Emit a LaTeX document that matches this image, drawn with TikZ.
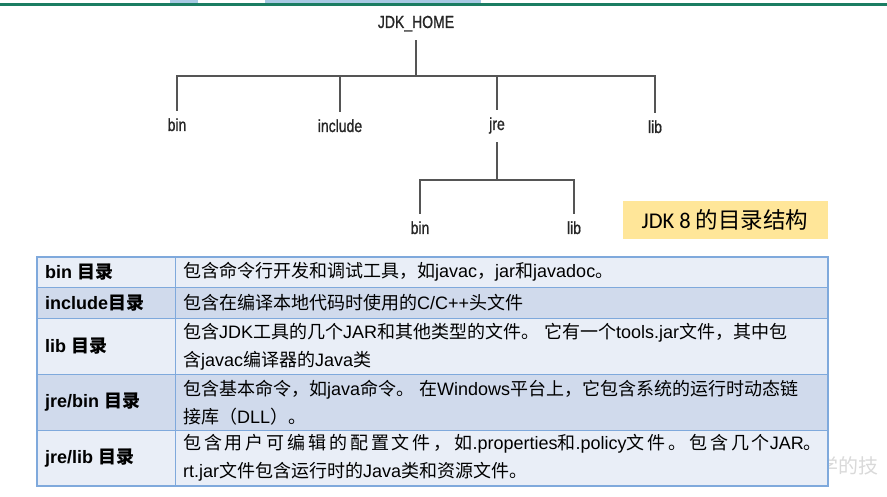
\documentclass[tikz,border=0pt]{standalone}
\usepackage{fontspec}
\setmainfont{Liberation Sans}
\newfontfamily\cjkfont{Noto Sans CJK SC}
\newfontfamily\treefont{Liberation Sans}[FakeStretch=0.8, FakeBold=1]
\newfontfamily\tagfont{Carlito}
\newcommand\zh[1]{{\cjkfont #1}}
\newcommand\zhsp[2]{{\cjkfont\addfontfeature{LetterSpace=#1}#2}}
\definecolor{treegray}{HTML}{555555}
\definecolor{tagyellow}{HTML}{FFE699}
\definecolor{rowlight}{HTML}{E9EEF7}
\definecolor{rowdark}{HTML}{D0DAEC}
\definecolor{gridblue}{HTML}{7FA9DC}
\definecolor{barteal}{HTML}{1B7D62}
\definecolor{marklite}{HTML}{A8C9E4}

\begin{document}
\begin{tikzpicture}[x=1pt, y=-1pt,
    dirname/.style={font=\treefont\fontsize{17.5}{17.5}\selectfont, text=black!85, anchor=base,
      inner xsep=0pt, inner ysep=8pt, text height=12pt, text depth=4pt},
    treeline/.style={draw=treegray, line width=1.4pt},
    keycell/.style={anchor=west, inner sep=0pt, font=\bfseries\fontsize{18}{28}\selectfont},
    desccell/.style={anchor=west, inner sep=0pt, align=left, font=\fontsize{18}{28}\selectfont}]
  \useasboundingbox (0,0) rectangle (887,497);

  % top rule of the slide
  \fill[marklite] (170,0) rectangle (198,3.5);
  \fill[marklite] (265,0) rectangle (481,3.5);
  \draw[barteal, line width=3pt] (0,5) -- (887,5);

  % directory tree
  \node[dirname] (home) at (416,28) {JDK\_HOME};
  \coordinate (bar1) at (416,76);
  \node[dirname] (bin)     at (177,131) {bin};
  \node[dirname] (include) at (340,132) {include};
  \node[dirname] (jre)     at (497,130) {jre};
  \node[dirname] (lib)     at (655,133) {lib};
  \coordinate (bar2) at (497,180);
  \node[dirname] (jrebin) at (420,234) {bin};
  \node[dirname] (jrelib) at (574,234) {lib};

  \draw[treeline] (home.south) -- (bar1);
  \draw[treeline] (bin.north) |- (bar1);
  \draw[treeline] (include.north) |- (bar1);
  \draw[treeline] (jre.north) |- (bar1);
  \draw[treeline] (lib.north) |- (bar1);
  \draw[treeline] (jre.south) -- (bar2);
  \draw[treeline] (jrebin.north) |- (bar2);
  \draw[treeline] (jrelib.north) |- (bar2);

  \node[fill=tagyellow, minimum width=205pt, minimum height=38pt, inner sep=0pt,
    font=\tagfont\fontsize{22.5}{22.5}\selectfont] (tag) at (725,220) {JDK 8 \zh{的目录结构}};

  % watermark under the table edge
  \node[anchor=west, inner sep=0pt, text=gray!30, font=\cjkfont\fontsize{20}{20}\selectfont]
    (mark) at (818,466) {学的技};

  % table
  \foreach \ya/\yb/\shade in {257/287.5/rowlight, 287.5/318.3/rowdark, 318.3/374.3/rowlight,
      374.3/430.3/rowdark, 430.3/486/rowlight}
    \fill[\shade] (37,\ya) rectangle (828,\yb);
  \foreach \yy in {287.5,318.3,374.3,430.3}
    \draw[gridblue, line width=1pt] (37,\yy) -- (828,\yy);
  \draw[gridblue, line width=1pt] (175,257) -- (175,486);
  \draw[gridblue, line width=1.6pt] (37,257) rectangle (828,486);

  \node[keycell] (k1) at (45,272.2) {bin \zh{目录}};
  \node[keycell] (k2) at (45,303) {include\zh{目录}};
  \node[keycell] (k3) at (45,346.3) {lib \zh{目录}};
  \node[keycell] (k4) at (45,402.3) {jre/bin \zh{目录}};
  \node[keycell] (k5) at (45,458) {jre/lib \zh{目录}};

  \node[desccell] (d1) at (183,272.2)
    {\zh{包含命令行开发和调试工具，如}javac\zh{，}jar\zh{和}javadoc\zh{。}};
  \node[desccell] (d2) at (183,303) {\zh{包含在编译本地代码时使用的}C/C++\zh{头文件}};
  \node[desccell] (d3) at (183,346.3)
    {\zh{包含}JDK\zh{工具的几个}JAR\zh{和其他类型的文件。} \zh{它有一个}tools.jar\zh{文件，其中包}\\
     \zh{含}javac\zh{编译器的}Java\zh{类}};
  \node[desccell] (d4) at (183,402.3)
    {\zh{包含基本命令，如}java\zh{命令。} \zh{在}Windows\zh{平台上，它包含系统的运行时动态链}\\
     \zh{接库（}DLL\zh{）。}};
  \node[desccell] (d5) at (183,458)
    {\zhsp{16}{包含用户可编辑的配置文件，如}.properties\zhsp{16}{和}.policy\zhsp{16}{文件。包含几个}JAR\zh{。}\\
     rt.jar\zh{文件包含运行时的}Java\zh{类和资源文件。}};
\end{tikzpicture}
\end{document}
